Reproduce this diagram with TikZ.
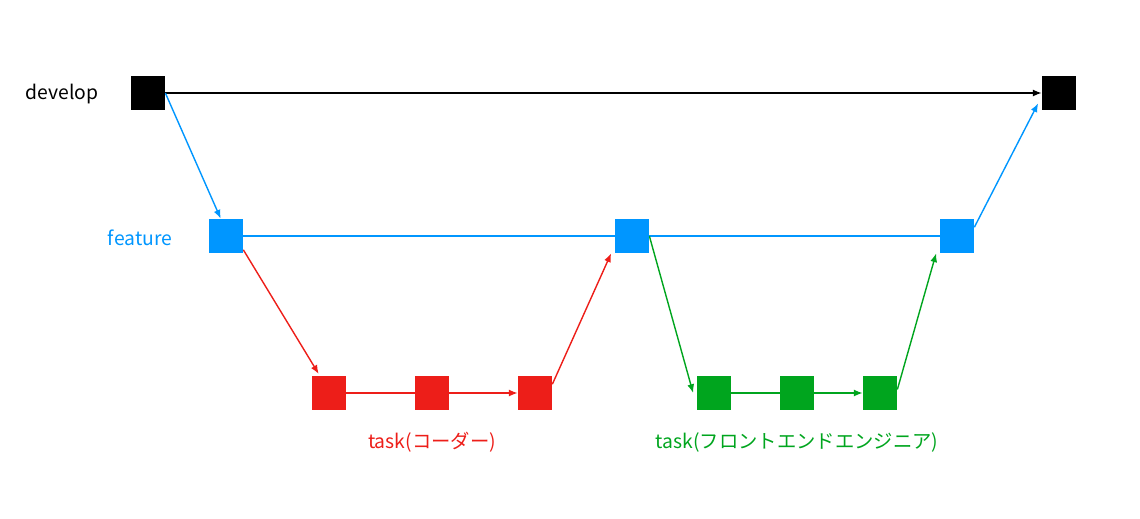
\documentclass[tikz,border=0pt]{standalone}
\usepackage{fontspec}
\setmainfont{Noto Sans CJK JP}
\usetikzlibrary{arrows.meta,backgrounds}
\definecolor{devblack}{RGB}{0,0,0}
\definecolor{featblue}{RGB}{0,150,255}
\definecolor{coderred}{RGB}{237,30,25}
\definecolor{frontgreen}{RGB}{0,165,30}
\tikzset{
  commit/.style={fill=#1, minimum size=0.68cm, inner sep=0pt},
  branch/.style={draw=#1, line width=0.8pt},
  merge/.style={branch=#1, -{Latex[length=5pt,width=4pt]}},
  branchname/.style={text=#1, font=\fontsize{11}{13}\selectfont}
}
\begin{document}
\begin{tikzpicture}[x=0.02cm, y=-0.02cm]
\useasboundingbox (0,0) rectangle (1140,518);

\node[commit=devblack] (dev1) at (148,93) {};
\node[commit=devblack] (dev2) at (1059,93) {};
\node[commit=featblue] (feat1) at (226,236) {};
\node[commit=featblue] (feat2) at (632,236) {};
\node[commit=featblue] (feat3) at (957,236) {};
\node[commit=coderred] (coder1) at (329,393) {};
\node[commit=coderred] (coder2) at (432,393) {};
\node[commit=coderred] (coder3) at (535,393) {};
\node[commit=frontgreen] (front1) at (714,393) {};
\node[commit=frontgreen] (front2) at (797,393) {};
\node[commit=frontgreen] (front3) at (880,393) {};

\node[branchname=devblack] (devlabel) at (62,94) {develop};
\node[branchname=featblue] (featlabel) at (140,238) {feature};
\node[branchname=coderred] (coderlabel) at (432,442) {task(コーダー)};
\node[branchname=frontgreen] (frontlabel) at (797,442) {task(フロントエンドエンジニア)};

\begin{scope}[on background layer]
\draw[merge=devblack] (dev1.east) -- (dev2.west);
\draw[merge=featblue] (dev1.east) -- ([xshift=-3pt]feat1.north);
\draw[branch=featblue] (feat1.east) -- (feat2.west);
\draw[branch=featblue] (feat2.east) -- (feat3.west);
\draw[merge=featblue] ([yshift=5pt]feat3.east) -- ([xshift=-2pt,yshift=4pt]dev2.south west);
\draw[merge=coderred] ([yshift=2pt]feat1.south east) -- ([xshift=4pt,yshift=1pt]coder1.north west);
\draw[merge=coderred] (coder1.east) -- (coder3.west);
\draw[merge=coderred] ([yshift=5pt]coder3.east) -- ([xshift=-2pt]feat2.south west);
\draw[merge=frontgreen] (feat2.east) -- ([xshift=-2pt]front1.west);
\draw[merge=frontgreen] (front1.east) -- (front3.west);
\draw[merge=frontgreen] ([yshift=2pt]front3.east) -- ([xshift=-2pt]feat3.south west);
\end{scope}
\end{tikzpicture}
\end{document}
